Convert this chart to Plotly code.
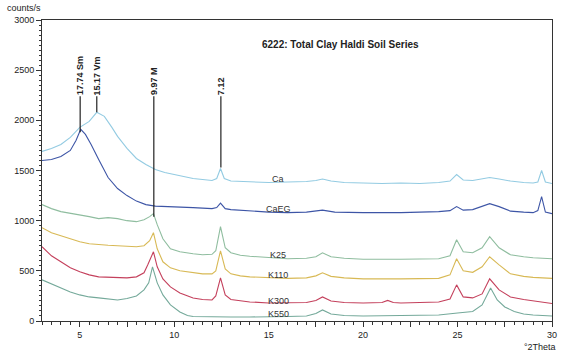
import plotly.graph_objects as go

# ---------------- data ----------------
x_ca = [3, 3.5, 4, 4.5, 5, 5.5, 5.9, 6.3, 6.7, 7, 7.5, 8, 8.5, 9, 9.5, 10, 11, 12, 12.25, 12.45, 12.65, 13, 14, 15, 16, 17, 17.5, 17.85, 18.3, 19, 20, 21, 22, 23, 24, 24.6, 24.95, 25.3, 25.8, 26.3, 26.7, 27.2, 27.8, 28.5, 29, 29.25, 29.45, 29.65, 30]
y_ca = [1690, 1720, 1760, 1830, 1930, 1990, 2080, 2040, 1930, 1840, 1720, 1620, 1560, 1510, 1480, 1460, 1420, 1400, 1420, 1520, 1420, 1395, 1385, 1380, 1385, 1390, 1400, 1415, 1395, 1380, 1375, 1370, 1375, 1370, 1380, 1395, 1460, 1405, 1400, 1415, 1430, 1415, 1395, 1380, 1375, 1385, 1500, 1385, 1370]

x_caeg = [3, 3.5, 4, 4.5, 4.8, 5.05, 5.3, 5.6, 6, 6.5, 7, 7.5, 8, 8.5, 9, 10, 11, 12, 12.25, 12.45, 12.7, 13, 14, 15, 16, 17, 17.85, 18.5, 20, 22, 24, 24.6, 24.95, 25.3, 25.8, 26.3, 26.7, 27.2, 27.8, 28.5, 29, 29.25, 29.45, 29.65, 30]
y_caeg = [1600, 1610, 1640, 1700, 1800, 1910, 1860, 1760, 1610, 1430, 1320, 1250, 1195, 1160, 1145, 1140, 1130, 1120, 1130, 1175, 1120, 1110, 1095, 1085, 1080, 1085, 1105, 1085, 1080, 1080, 1090, 1100, 1140, 1105, 1110, 1140, 1170, 1140, 1095, 1085, 1080, 1100, 1240, 1085, 1070]

x_k = [3, 3.5, 4, 4.5, 5, 5.5, 6, 6.5, 7, 7.5, 8, 8.4, 8.7, 8.9, 9.1, 9.4, 9.8, 10.3, 11, 11.5, 12, 12.2, 12.45, 12.7, 13, 13.5, 14, 15, 16, 17, 17.5, 17.85, 18.3, 19, 20, 22, 24, 24.6, 24.95, 25.3, 25.8, 26.3, 26.7, 27.2, 27.8, 28.5, 29, 30]
y_k25 = [1160, 1120, 1090, 1075, 1060, 1040, 1020, 1030, 1020, 1000, 990, 1010, 1040, 1070, 960, 820, 720, 690, 670, 660, 665, 700, 940, 730, 680, 655, 645, 630, 620, 625, 640, 680, 640, 625, 615, 615, 620, 650, 810, 690, 680, 730, 840, 730, 660, 640, 630, 620]
y_k110 = [930, 880, 850, 820, 790, 770, 760, 755, 750, 745, 740, 750, 800, 880, 720, 590, 530, 500, 480, 470, 470, 500, 700, 520, 470, 450, 440, 430, 425, 430, 450, 480, 445, 430, 420, 420, 425, 460, 620, 500, 485, 540, 640, 560, 470, 445, 435, 425]

x_k300 = [3, 3.5, 4, 4.5, 5, 5.5, 6, 6.5, 7, 7.5, 8, 8.4, 8.6, 8.9, 9.1, 9.4, 9.8, 10.3, 11, 11.5, 12, 12.2, 12.45, 12.7, 13, 13.5, 14, 15, 16, 17, 17.5, 17.85, 18.3, 19, 20, 21, 21.3, 21.6, 22, 24, 24.6, 24.95, 25.3, 25.8, 26.3, 26.7, 27.2, 27.8, 28.5, 29, 30]
y_k300 = [740, 650, 590, 530, 490, 460, 440, 435, 430, 430, 440, 480, 560, 690, 540, 420, 340, 280, 230, 215, 210, 250, 430, 260, 215, 200, 190, 180, 180, 185, 205, 240, 200, 185, 180, 185, 205, 185, 180, 190, 220, 360, 240, 230, 270, 420, 310, 240, 215, 200, 175]

x_k550 = [3, 3.5, 4, 4.5, 5, 5.5, 6, 6.5, 7, 7.5, 8, 8.4, 8.65, 8.85, 9.1, 9.4, 9.8, 10.3, 10.7, 11, 12, 13, 14, 15, 16, 17, 17.5, 17.85, 18.3, 19, 20, 22, 24, 25, 25.8, 26.3, 26.55, 26.75, 27.1, 27.5, 28, 28.5, 29, 30]
y_k550 = [410, 370, 330, 290, 260, 240, 230, 220, 210, 225, 250, 310, 380, 540, 380, 260, 160, 90, 55, 45, 40, 40, 40, 40, 45, 50, 75, 110, 70, 55, 50, 55, 60, 80, 95, 160, 260, 330, 210, 140, 95, 70, 60, 50]

series_names = ["Ca", "CaEG", "K25", "K110", "K300", "K550"]
label_x = [15.5, 15.5, 15.5, 15.5, 15.5, 15.5]
label_y = [1420, 1120, 660, 460, 200, 70]

peak_labels = ["17.74 Sm", "15.17 Vm", "9.97 M", "7.12"]
peak_x = [5.02, 5.9, 8.92, 12.47]
peak_bottom = [1880, 2080, 1040, 1530]
peak_top = 2240

y_ticks = [0, 500, 1000, 1500, 2000, 2500, 3000]
x_ticks = [5, 7.5, 10, 12.5, 15, 17.5, 20, 22.5, 25, 27.5, 30]
x_ticktext = ["5", "", "10", "", "15", "", "20", "", "25", "", "30"]

# ---------------- figure ----------------
colors = ["#93cbe2", "#3d55a6", "#8fbd9f", "#d8b955", "#c4405c", "#74a99a"]
xs = [x_ca, x_caeg, x_k, x_k, x_k300, x_k550]
ys = [y_ca, y_caeg, y_k25, y_k110, y_k300, y_k550]

fig = go.Figure()
for name, x, y, c in zip(series_names, xs, ys, colors):
    fig.add_trace(go.Scatter(x=x, y=y, mode="lines", name=name,
                             line=dict(color=c, width=1.1), showlegend=False))

font = "Liberation Sans, Arial, sans-serif"

for name, lx, ly in zip(series_names, label_x, label_y):
    fig.add_annotation(x=lx, y=ly, xref="x", yref="y", text=name, showarrow=False,
                       font=dict(family=font, size=9, color="#333333"))

for lab, px, pb in zip(peak_labels, peak_x, peak_bottom):
    fig.add_shape(type="line", xref="x", yref="y", x0=px, x1=px, y0=pb, y1=peak_top,
                  line=dict(color="#222222", width=1.2))
    fig.add_annotation(x=px, y=peak_top, xref="x", yref="y", text="<b>%s</b>" % lab,
                       showarrow=False, textangle=-90, xanchor="center", yanchor="bottom",
                       borderpad=0, font=dict(family=font, size=9, color="#222222"))

fig.add_annotation(x=0.586, y=0.943, xref="paper", yref="paper",
                   text="<b>6222: Total Clay Haldi Soil Series</b>", showarrow=False,
                   font=dict(family=font, size=10, color="#222222"))
fig.add_annotation(x=-0.0725, y=1.04, xref="paper", yref="paper", text="counts/s",
                   showarrow=False, xanchor="left", yanchor="middle",
                   font=dict(family=font, size=9, color="#222222"))
fig.add_annotation(x=1.012, y=-0.088, xref="paper", yref="paper", text="°2Theta",
                   showarrow=False, xanchor="right", yanchor="middle",
                   font=dict(family=font, size=9, color="#222222"))

fig.update_layout(
    width=562, height=354,
    margin=dict(l=42, r=10, t=20, b=33),
    paper_bgcolor="white", plot_bgcolor="white",
    font=dict(family=font, size=9, color="#222222"),
    xaxis=dict(range=[3, 30], tickmode="array", tickvals=x_ticks, ticktext=x_ticktext,
               ticks="outside", ticklen=5, tickcolor="#333333", showgrid=False, zeroline=False,
               showline=True, linecolor="#333333", linewidth=1, mirror=True, automargin=False,
               minor=dict(dtick=0.5, ticks="outside", ticklen=3, tickcolor="#333333", showgrid=False),
               tickfont=dict(size=9)),
    yaxis=dict(range=[0, 3000], tickmode="array", tickvals=y_ticks,
               ticks="outside", ticklen=5, tickcolor="#333333", showgrid=False, zeroline=False,
               showline=True, linecolor="#333333", linewidth=1, mirror=True, automargin=False,
               minor=dict(dtick=50, ticks="outside", ticklen=2, tickcolor="#333333", showgrid=False),
               tickfont=dict(size=9)),
)

fig.write_html("out.html", config={"responsive": False, "displayModeBar": False},
               post_script="document.body.style.margin='0px';document.body.style.overflow='hidden';")
